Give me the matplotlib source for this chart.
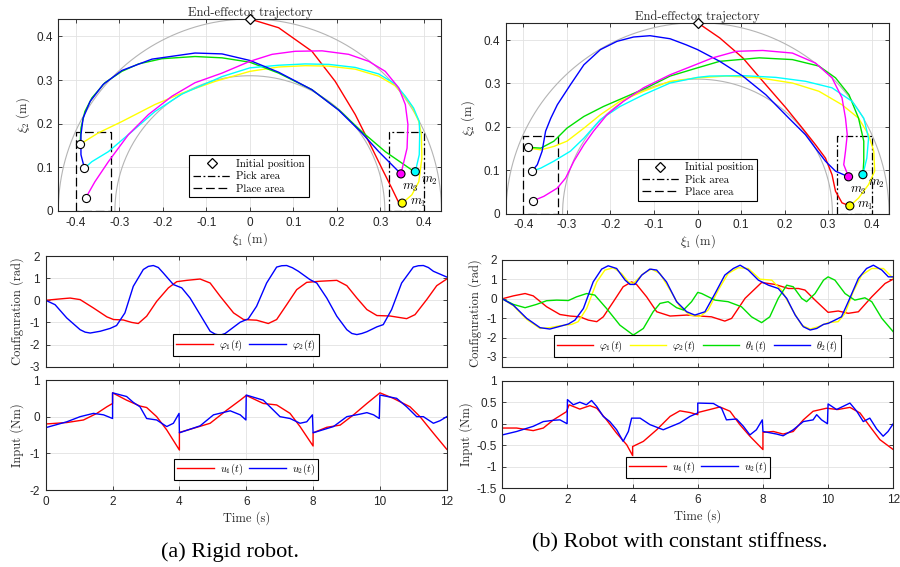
import matplotlib
matplotlib.use('Agg')
import matplotlib.pyplot as plt
from matplotlib.lines import Line2D
import numpy as np

plt.rcParams['font.family'] = ['Liberation Sans', 'DejaVu Sans']
plt.rcParams['mathtext.fontset'] = 'cm'
plt.rcParams['axes.unicode_minus'] = False

SERIF = 'cmr10'
AXC = '#262626'
RED, YEL, GRN, CYA, BLU, MAG = '#ff0000', '#ffff00', '#00e000', '#00ffff', '#0000ff', '#ff00ff'

# ---- workspace / task geometry (m)
ws_radii = [0.44, 0.31]
pick_box_x = [0.32, 0.40]
place_box_x = [-0.40, -0.32]
box_y = [0.0, 0.18]
init_pos = (0.0, 0.44)
pick_x = [0.35, 0.38, 0.347]
pick_y = [0.018, 0.09, 0.085]
place_x = [-0.39, -0.38, -0.377]
place_y = [0.153, 0.098, 0.03]

# ---- (a) rigid robot, end-effector paths
a_red_x = [0.0, 0.066, 0.1425, 0.196, 0.242, 0.273, 0.303, 0.326, 0.341, 0.35]
a_red_y = [0.44, 0.42, 0.366, 0.297, 0.221, 0.159, 0.098, 0.052, 0.021, 0.018]
a_yel_x = [0.35, 0.372, 0.388, 0.395, 0.394, 0.388, 0.372, 0.355, 0.334, 0.296, 0.242, 0.181, 0.127, 0.066, 0.0,
           -0.08, -0.156, -0.218, -0.294, -0.348, -0.39]
a_yel_y = [0.018, 0.037, 0.067, 0.121, 0.175, 0.205, 0.24, 0.263, 0.287, 0.309, 0.325, 0.332, 0.333, 0.33, 0.32,
           0.297, 0.27, 0.244, 0.205, 0.179, 0.153]
a_grn_x = [-0.39, -0.388, -0.379, -0.363, -0.333, -0.294, -0.256, -0.202, -0.126, -0.064, 0.0, 0.066, 0.1425,
           0.204, 0.257, 0.311, 0.372, 0.38]
a_grn_y = [0.153, 0.19, 0.228, 0.259, 0.294, 0.32, 0.337, 0.349, 0.354, 0.351, 0.341, 0.316, 0.278, 0.232, 0.182,
           0.136, 0.094, 0.09]
a_cya_x = [0.38, 0.389, 0.39, 0.389, 0.376, 0.357, 0.334, 0.296, 0.242, 0.181, 0.127, 0.066, 0.0, -0.064, -0.156,
           -0.218, -0.271, -0.325, -0.363, -0.38]
a_cya_y = [0.09, 0.129, 0.175, 0.205, 0.236, 0.263, 0.291, 0.314, 0.329, 0.336, 0.337, 0.334, 0.328, 0.308, 0.268,
           0.228, 0.182, 0.136, 0.113, 0.098]
a_blu_x = [-0.38, -0.388, -0.388, -0.383, -0.367, -0.337, -0.294, -0.225, -0.126, -0.064, 0.0, 0.066, 0.1425,
           0.204, 0.257, 0.296, 0.326, 0.347]
a_blu_y = [0.098, 0.129, 0.175, 0.213, 0.251, 0.29, 0.322, 0.348, 0.362, 0.36, 0.345, 0.318, 0.278, 0.231, 0.179,
           0.136, 0.106, 0.085]
a_mag_x = [0.347, 0.361, 0.363, 0.357, 0.342, 0.311, 0.273, 0.227, 0.166, 0.104, 0.051, 0.0, -0.064, -0.126,
           -0.179, -0.233, -0.279, -0.325, -0.356, -0.377]
a_mag_y = [0.085, 0.144, 0.198, 0.244, 0.282, 0.32, 0.343, 0.359, 0.367, 0.366, 0.359, 0.343, 0.316, 0.294,
           0.263, 0.221, 0.175, 0.113, 0.067, 0.03]

# ---- (b) constant stiffness, end-effector paths
b_red_x = [0.0, 0.051, 0.104, 0.157, 0.203, 0.241, 0.271, 0.294, 0.309, 0.317, 0.332, 0.35]
b_red_y = [0.44, 0.405, 0.359, 0.297, 0.244, 0.197, 0.159, 0.128, 0.09, 0.052, 0.025, 0.018]
b_yel_x = [0.35, 0.37, 0.393, 0.407, 0.405, 0.393, 0.37, 0.332, 0.279, 0.218, 0.142, 0.066, 0.0, -0.063, -0.124,
           -0.178, -0.223, -0.261, -0.3, -0.33, -0.36, -0.379, -0.39]
b_yel_y = [0.018, 0.036, 0.067, 0.098, 0.144, 0.182, 0.22, 0.251, 0.282, 0.301, 0.313, 0.317, 0.313, 0.305,
           0.282, 0.259, 0.228, 0.197, 0.167, 0.155, 0.147, 0.15, 0.153]
b_grn_x = [-0.39, -0.36, -0.33, -0.3, -0.261, -0.216, -0.163, -0.117, -0.063, 0.0, 0.051, 0.142, 0.218, 0.279,
           0.317, 0.348, 0.37, 0.382, 0.382, 0.38]
b_grn_y = [0.153, 0.151, 0.167, 0.197, 0.224, 0.247, 0.27, 0.29, 0.317, 0.336, 0.351, 0.359, 0.355, 0.34, 0.313,
           0.274, 0.22, 0.167, 0.121, 0.09]
b_cya_x = [0.38, 0.389, 0.393, 0.382, 0.355, 0.309, 0.248, 0.18, 0.104, 0.028, 0.0, -0.063, -0.124, -0.178,
           -0.223, -0.261, -0.292, -0.33, -0.36, -0.38]
b_cya_y = [0.09, 0.128, 0.174, 0.22, 0.259, 0.29, 0.305, 0.314, 0.318, 0.317, 0.314, 0.301, 0.274, 0.247, 0.217,
           0.174, 0.144, 0.121, 0.105, 0.098]
b_blu_x = [-0.38, -0.368, -0.357, -0.349, -0.337, -0.322, -0.292, -0.261, -0.223, -0.185, -0.147, -0.109, -0.063,
           -0.026, 0.0, 0.051, 0.104, 0.157, 0.21, 0.248, 0.271, 0.294, 0.317, 0.347]
b_blu_y = [0.098, 0.113, 0.144, 0.19, 0.22, 0.251, 0.297, 0.343, 0.378, 0.397, 0.407, 0.41, 0.403, 0.389, 0.378,
           0.351, 0.317, 0.274, 0.22, 0.182, 0.151, 0.121, 0.098, 0.085]
b_mag_x = [0.347, 0.336, 0.34, 0.344, 0.34, 0.332, 0.309, 0.271, 0.218, 0.15, 0.089, 0.035, 0.0, -0.063, -0.124,
           -0.17, -0.208, -0.239, -0.261, -0.284, -0.303, -0.322, -0.353, -0.377]
b_mag_y = [0.085, 0.113, 0.144, 0.182, 0.22, 0.267, 0.313, 0.347, 0.37, 0.376, 0.374, 0.359, 0.345, 0.32, 0.29,
           0.259, 0.228, 0.19, 0.159, 0.121, 0.082, 0.059, 0.04, 0.03]

# ---- (a) configuration (rad)
a_phi1_t = [0, 0.53, 0.73, 1.03, 1.43, 1.83, 2.03, 2.32, 2.57, 2.77, 3.02, 3.32, 3.67, 3.92, 4.22, 4.62, 4.92,
            5.22, 5.62, 5.92, 6.31, 6.66, 6.91, 7.21, 7.51, 7.81, 8.21, 8.71, 9.01, 9.31, 9.61, 9.91, 10.3, 10.8,
            11.05, 11.4, 11.7, 12]
a_phi1 = [0, 0.075, 0.1, 0.03, -0.35, -0.75, -0.87, -0.89, -1.0, -1.05, -0.72, -0.05, 0.56, 0.84, 0.9, 0.96, 0.78,
          0.18, -0.57, -0.87, -0.9, -1.05, -0.87, -0.2, 0.48, 0.81, 0.86, 0.9, 0.66, 0.1, -0.42, -0.69, -0.71, -0.83,
          -0.65, 0.03, 0.66, 0.96]
a_phi2_t = [0, 0.28, 0.63, 1.03, 1.18, 1.33, 1.63, 1.93, 2.12, 2.37, 2.62, 2.92, 3.07, 3.22, 3.37, 3.52, 3.82,
            4.07, 4.32, 4.62, 4.92, 5.07, 5.22, 5.37, 5.52, 5.82, 6.06, 6.31, 6.61, 6.91, 7.06, 7.21, 7.38, 7.56,
            7.91, 8.11, 8.41, 8.71, 9.01, 9.16, 9.31, 9.46, 9.61, 9.91, 10.1, 10.35, 10.65, 11.0, 11.15, 11.3,
            11.45, 11.6, 12]
a_phi2 = [0, -0.2, -0.8, -1.33, -1.44, -1.48, -1.4, -1.27, -1.14, -0.57, 0.63, 1.39, 1.53, 1.57, 1.48, 1.23, 0.71,
          0.56, 0.1, -0.65, -1.4, -1.53, -1.58, -1.5, -1.33, -0.99, -0.84, -0.27, 0.78, 1.5, 1.56, 1.57, 1.47, 1.31,
          0.93, 0.78, 0.1, -0.72, -1.33, -1.5, -1.55, -1.5, -1.42, -1.2, -1.1, -0.42, 0.78, 1.5, 1.56, 1.57, 1.48,
          1.31, 1.05]

# ---- (b) configuration (rad)
b_phi1_t = [0, 0.34, 0.7, 0.95, 1.36, 1.77, 2.08, 2.38, 2.64, 2.9, 3.1, 3.41, 3.71, 3.97, 4.12, 4.43, 4.74, 5.15,
            5.66, 6.07, 6.42, 6.83, 7.04, 7.45, 7.96, 8.37, 8.78, 9.09, 9.29, 9.6, 10.0, 10.31, 10.62, 10.93, 11.34,
            11.75, 12]
b_phi1 = [0, 0.15, 0.27, 0.15, -0.41, -0.81, -0.89, -0.93, -1.1, -1.18, -0.93, -0.15, 0.62, 0.87, 0.74, 0.1,
          -0.67, -0.89, -0.84, -0.89, -0.93, -1.15, -1.01, 0.02, 0.84, 0.74, 0.53, 0.53, 0.45, -0.07, -0.7, -0.63,
          -0.75, -0.67, 0.1, 0.79, 1.01]
b_phi2_t = [0, 0.34, 0.75, 1.16, 1.46, 1.77, 2.13, 2.33, 2.59, 2.9, 3.15, 3.41, 3.66, 3.87, 4.02, 4.33, 4.58, 4.84,
            5.15, 5.45, 5.76, 6.07, 6.32, 6.63, 6.93, 7.24, 7.55, 7.91, 8.27, 8.57, 8.88, 9.19, 9.45, 9.7, 10.0,
            10.31, 10.52, 10.77, 11.03, 11.34, 11.7, 12]
b_phi2 = [0, -0.36, -1.06, -1.53, -1.49, -1.39, -1.32, -1.18, -0.5, 0.87, 1.48, 1.6, 1.3, 0.87, 0.79, 1.3, 1.53,
          1.3, 0.45, -0.41, -0.84, -0.91, -0.58, 0.45, 1.3, 1.6, 1.56, 1.01, 0.96, 0.45, -0.5, -1.36, -1.56, -1.44,
          -1.23, -1.18, -0.75, 0.36, 1.22, 1.56, 1.56, 1.05]
b_th1_t = [0, 0.34, 0.7, 1.05, 1.36, 1.67, 2.03, 2.28, 2.59, 2.84, 3.2, 3.61, 4.02, 4.33, 4.63, 4.84, 5.09, 5.35,
           5.56, 5.81, 6.0, 6.12, 6.53, 6.93, 7.34, 7.65, 7.96, 8.21, 8.47, 8.73, 8.93, 9.19, 9.34, 9.6, 9.86, 10.0,
           10.21, 10.52, 10.82, 11.13, 11.34, 11.65, 12]
b_th1 = [0, -0.29, -0.46, -0.29, -0.1, -0.07, -0.09, 0.1, 0.27, 0.19, -0.5, -1.36, -1.87, -1.53, -0.67, -0.24,
         -0.15, -0.46, -0.58, -0.15, 0.33, 0.27, -0.07, -0.15, -0.41, -0.93, -1.23, -0.93, 0.02, 0.7, 0.62, 0.02,
         -0.15, 0.27, 0.96, 1.13, 0.96, 0.27, -0.07, 0.05, -0.15, -1.01, -1.7]
b_th2_t = [0, 0.34, 0.75, 1.16, 1.46, 1.77, 2.03, 2.23, 2.49, 2.79, 3.05, 3.25, 3.51, 3.77, 3.92, 4.07, 4.28, 4.53,
           4.74, 5.04, 5.35, 5.66, 5.91, 6.22, 6.53, 6.83, 7.09, 7.3, 7.55, 7.86, 8.17, 8.47, 8.73, 8.99, 9.24, 9.45,
           9.65, 9.86, 10.0, 10.21, 10.41, 10.62, 10.93, 11.18, 11.39, 11.65, 11.85, 12]
b_th2 = [0, -0.33, -1.01, -1.49, -1.56, -1.42, -1.3, -1.1, -0.5, 0.87, 1.53, 1.7, 1.56, 0.96, 0.74, 0.74, 1.22,
         1.53, 1.48, 0.87, -0.15, -0.67, -0.84, -0.67, 0.27, 1.22, 1.56, 1.73, 1.48, 0.96, 0.7, 0.53, 0.02, -0.84,
         -1.44, -1.61, -1.53, -1.32, -1.27, -1.1, -0.93, -0.15, 1.05, 1.56, 1.73, 1.48, 1.13, 1.13]

# ---- (a) input torques (Nm)
a_u1_t = [0, 0.63, 1.13, 1.53, 1.83, 2.0, 2.0, 2.42, 2.82, 3.02, 3.32, 3.62, 4.0, 4.0, 4.52, 4.92, 5.42, 5.82, 6.0,
          6.51, 6.91, 7.31, 7.61, 8.0, 8.0, 8.41, 8.81, 9.21, 9.61, 10.0, 10.4, 10.9, 11.2, 11.6, 12]
a_u1 = [-0.2, -0.16, -0.09, 0.09, 0.27, 0.36, 0.65, 0.45, 0.29, 0.25, 0.0, -0.36, -0.91, -0.43, -0.29, -0.18,
        0.18, 0.45, 0.58, 0.36, 0.32, 0.09, -0.27, -0.8, -0.44, -0.29, -0.23, 0.05, 0.36, 0.65, 0.5, 0.27, 0.0,
        -0.45, -0.89]
a_u2_t = [0, 0.63, 1.03, 1.43, 1.73, 2.0, 2.0, 2.42, 2.62, 2.82, 3.02, 3.32, 3.62, 3.82, 3.99, 4.0, 4.62, 5.02,
          5.52, 5.82, 5.99, 6.0, 6.51, 6.71, 7.01, 7.31, 7.61, 7.81, 7.98, 8.0, 8.61, 9.01, 9.41, 9.61, 9.81, 9.98,
          10.0, 10.5, 10.8, 11.1, 11.3, 11.6, 11.8, 12]
a_u2 = [-0.3, -0.14, 0.0, 0.09, 0.05, -0.05, 0.65, 0.55, 0.39, 0.27, -0.05, -0.09, -0.27, -0.18, 0.09, -0.44,
        -0.25, 0.05, 0.16, 0.05, -0.09, 0.59, 0.45, 0.27, 0.0, -0.05, -0.18, -0.14, 0.05, -0.44, -0.27, 0.0, 0.07,
        0.11, 0.05, -0.05, 0.59, 0.5, 0.27, 0.0, 0.0, -0.18, -0.11, 0.0]

# ---- (b) input torques (Nm)
b_u1_t = [0, 0.44, 0.95, 1.26, 1.57, 1.97, 2.05, 2.38, 2.69, 2.9, 3.2, 3.51, 3.82, 4.0, 4.0, 4.33, 4.74, 5.15,
          5.45, 5.76, 6.0, 6.0, 6.37, 6.68, 6.99, 7.29, 7.6, 8.0, 8.0, 8.32, 8.62, 8.93, 9.24, 9.54, 9.95, 10.3,
          10.67, 10.98, 11.28, 11.59, 12]
b_u1 = [-0.1, -0.1, -0.16, -0.1, 0.09, 0.28, 0.44, 0.34, 0.42, 0.36, 0.09, -0.22, -0.49, -0.74, -0.53, -0.41,
        -0.14, 0.17, 0.3, 0.26, 0.21, 0.26, 0.33, 0.39, 0.29, -0.02, -0.29, -0.6, -0.2, -0.18, -0.24, -0.18, 0.09,
        0.29, 0.36, 0.33, 0.38, 0.25, -0.06, -0.37, -0.6]
b_u2_t = [0, 0.44, 0.95, 1.26, 1.57, 1.77, 1.99, 2.0, 2.18, 2.38, 2.58, 2.74, 2.9, 3.1, 3.3, 3.51, 3.71, 3.87,
          3.97, 4.23, 4.53, 4.94, 5.45, 5.76, 6.0, 6.0, 6.48, 6.73, 6.88, 7.19, 7.4, 7.6, 7.8, 7.98, 8.0, 8.42,
          8.62, 8.93, 9.24, 9.54, 9.65, 9.8, 9.98, 10.0, 10.26, 10.67, 10.88, 11.08, 11.28, 11.49, 11.69, 11.84,
          12]
b_u2 = [-0.26, -0.18, -0.06, 0.05, 0.08, 0.09, 0.0, 0.56, 0.44, 0.5, 0.44, 0.54, 0.4, 0.17, 0.05, -0.14, -0.41,
        -0.18, 0.13, 0.13, -0.02, -0.14, 0.02, 0.17, 0.25, 0.48, 0.47, 0.36, 0.09, 0.11, -0.06, -0.26, -0.14, 0.09,
        -0.18, -0.24, -0.28, -0.14, 0.05, 0.09, 0.21, 0.09, 0.0, 0.46, 0.33, 0.48, 0.29, 0.05, 0.13, -0.12, -0.29,
        -0.18, 0.0]

time_ticks = [0, 2, 4, 6, 8, 10, 12]


def style(ax):
    ax.tick_params(direction='in', top=True, right=True, length=3, width=0.6,
                   colors=AXC, labelsize=8.5, pad=4)
    for s in ax.spines.values():
        s.set_color(AXC)
        s.set_linewidth(0.8)
    ax.grid(True, color='#e2e2e2', lw=0.6)
    ax.set_axisbelow(True)


def serif_label(ax, xl=None, yl=None, ypos=None, xpad=1):
    if xl:
        ax.set_xlabel(xl, family=SERIF, fontsize=9, color=AXC, labelpad=xpad)
    if yl:
        ax.set_ylabel(yl, family=SERIF, fontsize=9, color=AXC)
        ax.yaxis.set_label_coords(ypos, 0.5)


def draw_traj(ax, paths, title, legpos):
    th = np.linspace(0, np.pi, 300)
    for r in ws_radii:
        ax.plot(r * np.cos(th), r * np.sin(th), color='#b4b4b4', lw=0.8, zorder=2)
    for bx, ls in [(pick_box_x, (0, (6, 2, 1.5, 2))), (place_box_x, (0, (7, 3)))]:
        ax.plot([bx[0], bx[0], bx[1], bx[1], bx[0]], [box_y[0], box_y[1], box_y[1], box_y[0], box_y[0]],
                color='k', lw=0.9, ls=ls, zorder=3)
    for (px, py), c in zip(paths, [RED, YEL, GRN, CYA, BLU, MAG]):
        ax.plot(px, py, color=c, lw=1.0, zorder=4)
    ax.plot(*init_pos, marker='D', ms=5.5, mfc='w', mec='k', mew=0.9, zorder=6, clip_on=False)
    ax.scatter(pick_x, pick_y, s=34, c=[YEL, CYA, MAG], edgecolors='k', linewidths=0.8, zorder=6)
    ax.scatter(place_x, place_y, s=34, c='w', edgecolors='k', linewidths=0.8, zorder=6)
    ax.text(0.367, 0.018, r'$m_1$', fontsize=9, va='center', ha='left', zorder=7)
    ax.text(0.392, 0.068, r'$m_2$', fontsize=9, va='center', ha='left', zorder=7)
    ax.text(0.350, 0.052, r'$m_3$', fontsize=9, va='center', ha='left', zorder=7)
    ax.set_xlim(-0.44, 0.44)
    ax.set_ylim(0, 0.44)
    ax.set_xticks(np.round(np.arange(-0.4, 0.41, 0.1), 1))
    ax.set_yticks([0, 0.1, 0.2, 0.3, 0.4])
    ax.set_xticklabels(['-0.4', '-0.3', '-0.2', '-0.1', '0', '0.1', '0.2', '0.3', '0.4'])
    ax.set_yticklabels(['0', '0.1', '0.2', '0.3', '0.4'])
    style(ax)
    ax.set_title(title, family=SERIF, fontsize=9, color=AXC, pad=2)
    h = [Line2D([], [], ls='none', marker='D', ms=5.5, mfc='w', mec='k', mew=0.9),
         Line2D([], [], color='k', lw=0.9, ls=(0, (6, 2, 1.5, 2))),
         Line2D([], [], color='k', lw=0.9, ls=(0, (7, 3)))]
    leg = ax.legend(h, ['Initial position', 'Pick area', 'Place area'], loc='center',
                    bbox_to_anchor=legpos, bbox_transform=fig.transFigure,
                    prop={'family': SERIF, 'size': 7.8}, fancybox=False, framealpha=1,
                    edgecolor='k', handlelength=3.4, handletextpad=0.6, borderpad=0.35,
                    labelspacing=0.25)
    leg.get_frame().set_linewidth(0.8)
    leg.set_zorder(8)


def series_legend(ax, labels, legpos):
    leg = ax.legend(labels, loc='center', ncol=len(labels), bbox_to_anchor=legpos,
                    bbox_transform=fig.transFigure, fontsize=7.5, fancybox=False, framealpha=1,
                    edgecolor='k', handlelength=3.5, handletextpad=0.6, columnspacing=0.6,
                    borderpad=0.3)
    leg.get_frame().set_linewidth(0.8)


fig = plt.figure(figsize=(9, 5.67), dpi=100)

ax1 = fig.add_axes([0.0648, 0.6279, 0.4257, 0.3386])
draw_traj(ax1, [(a_red_x, a_red_y), (a_yel_x, a_yel_y), (a_grn_x, a_grn_y), (a_cya_x, a_cya_y),
                (a_blu_x, a_blu_y), (a_mag_x, a_mag_y)], 'End-effector trajectory', (0.2767, 0.689))
serif_label(ax1, r'$\xi_1$ (m)', r'$\xi_2$ (m)', -0.069)

ax2 = fig.add_axes([0.5622, 0.6231, 0.4256, 0.3369])
draw_traj(ax2, [(b_red_x, b_red_y), (b_yel_x, b_yel_y), (b_grn_x, b_grn_y), (b_cya_x, b_cya_y),
                (b_blu_x, b_blu_y), (b_mag_x, b_mag_y)], 'End-effector trajectory', (0.7753, 0.683))
serif_label(ax2, r'$\xi_1$ (m)', r'$\xi_2$ (m)', -0.0765)

ax3 = fig.add_axes([0.0508, 0.3533, 0.4456, 0.1952])
ax3.plot(a_phi1_t, a_phi1, color=RED, lw=1.0)
ax3.plot(a_phi2_t, a_phi2, color=BLU, lw=1.0)
ax3.set_xlim(0, 12)
ax3.set_ylim(-3, 2)
ax3.set_xticks(time_ticks)
ax3.set_xticklabels([])
ax3.set_yticks([-3, -2, -1, 0, 1, 2])
style(ax3)
serif_label(ax3, None, 'Configuration (rad)', -0.054)
series_legend(ax3, [r'$\varphi_1(t)$', r'$\varphi_2(t)$'], (0.2736, 0.3912))

ax4 = fig.add_axes([0.5581, 0.3533, 0.4344, 0.1882])
ax4.plot(b_phi1_t, b_phi1, color=RED, lw=1.0)
ax4.plot(b_phi2_t, b_phi2, color=YEL, lw=1.0)
ax4.plot(b_th1_t, b_th1, color=GRN, lw=1.0)
ax4.plot(b_th2_t, b_th2, color=BLU, lw=1.0)
ax4.set_xlim(0, 12)
ax4.set_ylim(-3.5, 2)
ax4.set_xticks(time_ticks)
ax4.set_xticklabels([])
ax4.set_yticks([-3, -2, -1, 0, 1, 2])
style(ax4)
serif_label(ax4, None, 'Configuration (rad)', -0.053)
series_legend(ax4, [r'$\varphi_1(t)$', r'$\varphi_2(t)$', r'$\theta_1(t)$', r'$\theta_2(t)$'],
              (0.775, 0.3898))

ax5 = fig.add_axes([0.0508, 0.1358, 0.4456, 0.194])
ax5.plot(a_u1_t, a_u1, color=RED, lw=1.0)
ax5.plot(a_u2_t, a_u2, color=BLU, lw=1.0)
ax5.set_xlim(0, 12)
ax5.set_ylim(-2, 1)
ax5.set_xticks(time_ticks)
ax5.set_yticks([-2, -1, 0, 1])
style(ax5)
serif_label(ax5, 'Time (s)', 'Input (Nm)', -0.054, xpad=2.5)
series_legend(ax5, [r'$u_1(t)$', r'$u_2(t)$'], (0.2736, 0.1723))

ax6 = fig.add_axes([0.5581, 0.1388, 0.4344, 0.1898])
ax6.plot(b_u1_t, b_u1, color=RED, lw=1.0)
ax6.plot(b_u2_t, b_u2, color=BLU, lw=1.0)
ax6.set_xlim(0, 12)
ax6.set_ylim(-1.5, 1)
ax6.set_xticks(time_ticks)
ax6.set_yticks([-1.5, -1, -0.5, 0, 0.5, 1])
ax6.set_yticklabels(['-1.5', '-1', '-0.5', '0', '0.5', '1'])
style(ax6)
serif_label(ax6, 'Time (s)', 'Input (Nm)', -0.076, xpad=2.5)
series_legend(ax6, [r'$u_1(t)$', r'$u_2(t)$'], (0.7759, 0.1755))

fig.text(0.2556, 0.027, '(a) Rigid robot.', family='Liberation Serif', fontsize=16, ha='center', va='center')
fig.text(0.7556, 0.0429, '(b) Robot with constant stiffness.', family='Liberation Serif', fontsize=16,
         ha='center', va='center')

fig.savefig('out.png', dpi=100)
